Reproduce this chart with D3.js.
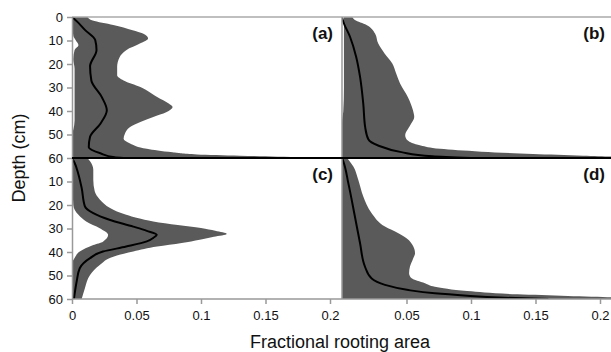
<!DOCTYPE html>
<html>
<head>
<meta charset="utf-8">
<script src="https://cdn.jsdelivr.net/npm/d3@7"></script>
<style>
  body { margin: 0; background: #fff; }
  svg { display: block; font-family: "Liberation Sans", Arial, sans-serif; }
</style>
</head>
<body>
<div id="chart"></div>
<script>
// tick values
const depthTicksTop = [0, 10, 20, 30, 40, 50, 60];
const depthTicksBottom = [10, 20, 30, 40, 50, 60];
const areaTicksLeft = [0, 0.05, 0.1, 0.15, 0.2];
const areaTicksRight = [0.05, 0.1, 0.15, 0.2];

// [depth (cm), fractional rooting area]
const upperA = [[0, 0.012], [1.5, 0.016], [3.4, 0.032], [5.6, 0.047], [7, 0.055], [9.1, 0.059], [11.2, 0.053], [14.1, 0.042], [17, 0.037], [21.2, 0.035], [24.8, 0.035], [27, 0.04], [29.8, 0.053], [34, 0.066], [36.8, 0.075], [38.3, 0.078], [40.5, 0.073], [42.5, 0.063], [44.7, 0.053], [46.8, 0.045], [49.7, 0.041], [51.8, 0.04], [53.8, 0.045], [56.1, 0.058], [57.6, 0.078], [58.5, 0.097], [59, 0.13], [59.7, 0.182], [60, 0.215]];
const medianA = [[0, 0], [2.5, 0.005], [5.5, 0.01], [9.8, 0.018], [14, 0.019], [21, 0.014], [27, 0.015], [34, 0.023], [39.7, 0.027], [45.4, 0.022], [51, 0.014], [55.4, 0.013], [58, 0.022], [59.7, 0.033], [60, 0.04]];
const lowerA = [[0, 0], [8, 0.001], [10, 0.003], [12, 0.005], [14, 0.002], [18, 0.001], [22, 0.002], [44, 0.002], [48, 0.001], [50, 0], [60, 0]];

const upperB = [[0, 0.008], [1.3, 0.01], [3.4, 0.019], [7, 0.0256], [11.2, 0.028], [15.5, 0.033], [19.8, 0.039], [24, 0.042], [28.3, 0.045], [34, 0.051], [39.7, 0.055], [42.6, 0.056], [46, 0.053], [50.4, 0.049], [52.6, 0.051], [54.7, 0.061], [56.1, 0.076], [57.3, 0.108], [58.3, 0.148], [59, 0.187], [59.4, 0.209], [60, 0.22]];
const medianB = [[0, 0], [2, 0.001], [8.4, 0.0062], [17, 0.011], [25.5, 0.014], [37, 0.0165], [47, 0.018], [52, 0.0204], [54.7, 0.028], [57.5, 0.046], [59.3, 0.07], [60, 0.1]];
const lowerB = [[0, 0.0015], [30, 0.0015], [40, 0.001], [45, 0], [60, 0]];

const upperC = [[0, 0.012], [1.4, 0.014], [5, 0.0165], [9.3, 0.0165], [14.2, 0.0176], [17.8, 0.0217], [21.3, 0.0295], [24.2, 0.042], [27, 0.063], [28.5, 0.082], [29.8, 0.1], [31, 0.111], [32.3, 0.12], [33.5, 0.11], [34.8, 0.099], [36.2, 0.085], [37.7, 0.066], [39.8, 0.0475], [42, 0.032], [45.5, 0.0215], [49.8, 0.014], [55.4, 0.01], [60, 0.0075]];
const medianC = [[0, 0], [2, 0.002], [7, 0.005], [12.8, 0.0075], [20.6, 0.01], [23.5, 0.0165], [26.3, 0.029], [29.2, 0.0475], [31, 0.058], [32.7, 0.0657], [34, 0.063], [35.5, 0.058], [37.7, 0.042], [39.8, 0.024], [42.6, 0.014], [46.9, 0.006], [52.6, 0.0036], [60, 0.0015]];
const lowerC = [[0, 0], [20, 0.001], [24.2, 0.005], [27, 0.011], [29.9, 0.0215], [32.7, 0.028], [35.6, 0.024], [37, 0.0165], [39.8, 0.006], [42.6, 0.002], [45, 0], [60, 0]];

const upperD = [[0, 0.004], [0.7, 0.005], [3.6, 0.0088], [9.3, 0.0126], [16.4, 0.0165], [23.5, 0.023], [29.2, 0.0333], [32, 0.0437], [34.1, 0.05], [37.7, 0.0553], [40.5, 0.0566], [43, 0.055], [46.2, 0.0527], [49, 0.052], [51.2, 0.054], [53.3, 0.0643], [54.8, 0.072], [56.6, 0.097], [58, 0.136], [58.7, 0.175], [59.3, 0.209], [60, 0.22]];
const medianD = [[0, 0], [1.4, 0.001], [10.7, 0.0049], [24.9, 0.01], [36.3, 0.014], [46.2, 0.0178], [51.3, 0.023], [54, 0.0333], [56.2, 0.0514], [57.6, 0.072], [58.6, 0.097], [59.4, 0.122], [60, 0.16]];
const lowerD = [[0, 0], [60, 0]];

const panels = [
  { label: "(a)", col: 0, row: 0, upper: upperA, median: medianA, lower: lowerA },
  { label: "(b)", col: 1, row: 0, upper: upperB, median: medianB, lower: lowerB },
  { label: "(c)", col: 0, row: 1, upper: upperC, median: medianC, lower: lowerC },
  { label: "(d)", col: 1, row: 1, upper: upperD, median: medianD, lower: lowerD },
];

const width = 611, height = 352;
const colX = [72, 342];
const rowY = [17, 158];
const panelH = 141;
const fillColor = "#5a5a5a";
const axisColor = "#999";

const svg = d3.select("#chart").append("svg")
  .attr("width", width)
  .attr("height", height);

const xScale = col => d3.scaleLinear().domain([0, 0.2]).range([colX[col], colX[col] + 258]);
const yScale = row => d3.scaleLinear().domain([0, 60]).range([rowY[row], rowY[row] + panelH]);

const defs = svg.append("defs");

panels.forEach((p, i) => {
  const x = xScale(p.col);
  const y = yScale(p.row);
  const x0 = colX[p.col];
  const x1 = p.col === 0 ? colX[1] : width;

  defs.append("clipPath").attr("id", "clip" + i)
    .append("rect")
    .attr("x", x0).attr("y", rowY[p.row])
    .attr("width", x1 - x0).attr("height", panelH);

  const g = svg.append("g").attr("clip-path", `url(#clip${i})`);

  const area = d3.area()
    .curve(d3.curveMonotoneY)
    .y(d => y(d[0]))
    .x0(x(0))
    .x1(d => x(d[1]));

  g.append("path")
    .attr("d", area(p.upper))
    .attr("fill", fillColor);

  g.append("path")
    .attr("d", area(p.lower))
    .attr("fill", "#fff");

  const line = d3.line()
    .curve(d3.curveMonotoneY)
    .y(d => y(d[0]))
    .x(d => x(d[1]));

  g.append("path")
    .attr("d", line(p.median))
    .attr("fill", "none")
    .attr("stroke", "#000")
    .attr("stroke-width", 2);

  svg.append("text")
    .attr("x", p.col === 0 ? 333 : 605)
    .attr("y", rowY[p.row] + 22)
    .attr("text-anchor", "end")
    .attr("font-size", 17)
    .attr("font-weight", "bold")
    .attr("fill", "#111")
    .text(p.label);
});

// frame lines
svg.append("line")
  .attr("x1", 72).attr("x2", width).attr("y1", rowY[0]).attr("y2", rowY[0])
  .attr("stroke", "#aaa").attr("stroke-width", 1.5);
svg.append("line")
  .attr("x1", colX[1]).attr("x2", colX[1]).attr("y1", rowY[0]).attr("y2", rowY[1] + panelH)
  .attr("stroke", axisColor).attr("stroke-width", 1.5);

function styleAxis(sel) {
  sel.selectAll("path.domain").attr("stroke", axisColor).attr("stroke-width", 1.5);
  sel.selectAll(".tick line").attr("stroke", axisColor).attr("stroke-width", 1.5);
  sel.selectAll(".tick text")
    .attr("font-size", 13)
    .attr("fill", "#111")
    .style("font-family", '"Liberation Sans", Arial, sans-serif');
}

// y axes
svg.append("g")
  .attr("transform", `translate(${colX[0]},0)`)
  .call(d3.axisLeft(yScale(0)).tickValues(depthTicksTop).tickSize(5).tickPadding(4).tickSizeOuter(0))
  .call(styleAxis);

svg.append("g")
  .attr("transform", `translate(${colX[0]},0)`)
  .call(d3.axisLeft(yScale(1)).tickValues(depthTicksBottom).tickSize(5).tickPadding(4).tickSizeOuter(0))
  .call(styleAxis);

// x axes
const bottomY = rowY[1] + panelH;
svg.append("g")
  .attr("transform", `translate(0,${bottomY})`)
  .call(d3.axisBottom(xScale(0)).tickValues(areaTicksLeft).tickFormat(d => String(d)).tickSize(5).tickPadding(7).tickSizeOuter(0))
  .call(styleAxis)
  .select("path.domain").attr("d", `M${colX[0]},0H${colX[1]}`);

svg.append("g")
  .attr("transform", `translate(0,${bottomY})`)
  .call(d3.axisBottom(xScale(1)).tickValues(areaTicksRight).tickFormat(d => String(d)).tickSize(5).tickPadding(7).tickSizeOuter(0))
  .call(styleAxis)
  .select("path.domain").attr("d", `M${colX[1]},0H${width}`);

// middle divider (black)
svg.append("line")
  .attr("x1", 72).attr("x2", width).attr("y1", rowY[1]).attr("y2", rowY[1])
  .attr("stroke", "#000").attr("stroke-width", 1.8);

// axis titles
svg.append("text")
  .attr("transform", `translate(25,${rowY[1]}) rotate(-90)`)
  .attr("text-anchor", "middle")
  .attr("font-size", 18)
  .attr("fill", "#111")
  .text("Depth (cm)");

svg.append("text")
  .attr("x", 340)
  .attr("y", 348)
  .attr("text-anchor", "middle")
  .attr("font-size", 18)
  .attr("fill", "#111")
  .text("Fractional rooting area");
</script>
</body>
</html>
